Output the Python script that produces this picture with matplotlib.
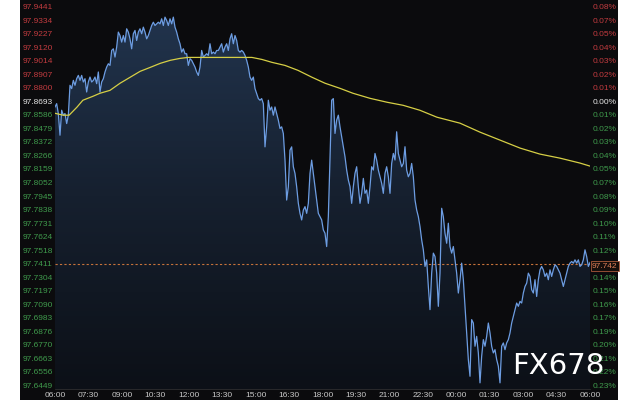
import numpy as np
import matplotlib
matplotlib.use("Agg")
import matplotlib.pyplot as plt
from matplotlib.patches import Rectangle, Polygon
from matplotlib.colors import LinearSegmentedColormap

# price series, evenly spaced from 06:00 to 06:00 next day
price = [
    97.8648, 97.8674, 97.8596, 97.8425, 97.8622, 97.8583, 97.8596, 97.8517, 97.8583, 97.8819,
    97.8793, 97.8858, 97.8819, 97.8871, 97.8897, 97.8858, 97.8897, 97.8845, 97.8871, 97.8766,
    97.8845, 97.8884, 97.8845, 97.8858, 97.8884, 97.8832, 97.8924, 97.8766, 97.8845, 97.8871,
    97.8924, 97.8963, 97.8989, 97.8976, 97.9094, 97.9107, 97.9042, 97.9121, 97.9239, 97.9212,
    97.9160, 97.9212, 97.9160, 97.9265, 97.9239, 97.9186, 97.9107, 97.9226, 97.9252, 97.9173,
    97.9239, 97.9265, 97.9226, 97.9278, 97.9239, 97.9186, 97.9212, 97.9252, 97.9291, 97.9317,
    97.9291, 97.9304, 97.9317, 97.9304, 97.9344, 97.9291, 97.9357, 97.9331, 97.9291, 97.9344,
    97.9304, 97.9357, 97.9278, 97.9239, 97.9186, 97.9147, 97.9081, 97.9107, 97.9068, 97.9068,
    97.8976,
    97.9029, 97.9016, 97.8989, 97.8963, 97.8924, 97.8897, 97.8963, 97.9094, 97.9042, 97.9055,
    97.9068, 97.9055, 97.9147, 97.9068, 97.9081, 97.9068, 97.9094, 97.9094, 97.9121, 97.9147,
    97.9081, 97.9121, 97.9147, 97.9094, 97.9186, 97.9226, 97.9147, 97.9212, 97.9173, 97.9094,
    97.9081, 97.9094, 97.9081, 97.9055, 97.9016, 97.8963, 97.8884, 97.8858, 97.8884, 97.8793,
    97.8753, 97.8714, 97.8701, 97.8714, 97.8674, 97.8333, 97.8491, 97.8701, 97.8622, 97.8648,
    97.8583, 97.8648, 97.8596, 97.8543, 97.8478, 97.8491, 97.8438, 97.8228, 97.7913, 97.8018,
    97.8307, 97.8333, 97.8176, 97.8123, 97.8018, 97.7887, 97.7808, 97.7756, 97.7834, 97.7861,
    97.7808, 97.7887, 97.8123, 97.8228, 97.8123, 97.8018, 97.7913, 97.7808, 97.7782, 97.7756,
    97.7677, 97.7651,
    97.7546, 97.7782, 97.8229, 97.8701, 97.8714, 97.8439, 97.8544, 97.8583, 97.8491, 97.8412,
    97.8334, 97.8255, 97.8150, 97.8071, 97.8019, 97.7887, 97.8019, 97.8124, 97.8176, 97.8019,
    97.7887, 97.7966, 97.8084, 97.7966, 97.7992, 97.7887, 97.8019, 97.8176, 97.8150, 97.8281,
    97.8229, 97.8150, 97.8097, 97.8045, 97.7966, 97.8124, 97.8176, 97.8097, 97.7966, 97.8202,
    97.8281, 97.8229, 97.8452, 97.8281, 97.8229, 97.8176, 97.8202, 97.8334, 97.8150, 97.8097,
    97.8124, 97.8202, 97.8097, 97.7914, 97.7835, 97.7782, 97.7704, 97.7599, 97.7520, 97.7389,
    97.7441, 97.7231, 97.7048, 97.7336, 97.7494, 97.7467, 97.7336, 97.7074, 97.7336, 97.7848,
    97.7782, 97.7651, 97.7572, 97.7730, 97.7546, 97.7494, 97.7546, 97.7441, 97.7336, 97.7179,
    97.7284, 97.7415, 97.7284, 97.7074, 97.6864, 97.6654, 97.6522, 97.6969, 97.6942, 97.6759,
    97.6837, 97.6706, 97.6470, 97.6680, 97.6811, 97.6759, 97.6837, 97.6942, 97.6864, 97.6759,
    97.6706, 97.6732, 97.6654, 97.6601, 97.6470, 97.6759, 97.6785, 97.6732, 97.6785, 97.6811,
    97.6864, 97.6942, 97.6995, 97.7047, 97.7100, 97.7074, 97.7113, 97.7100, 97.7179, 97.7231,
    97.7257, 97.7336, 97.7310, 97.7205, 97.7179, 97.7284, 97.7152, 97.7284, 97.7362, 97.7389,
    97.7362, 97.7310, 97.7336, 97.7284, 97.7362, 97.7310, 97.7362, 97.7402, 97.7389, 97.7362,
    97.7336, 97.7284, 97.7231, 97.7284, 97.7336, 97.7389, 97.7415, 97.7428, 97.7415, 97.7441,
    97.7415, 97.7441, 97.7389, 97.7402, 97.7441, 97.7520, 97.7467, 97.7389, 97.7420,
]

# yellow average line: minutes after 06:00 and value
avg_min = [0, 22, 38, 59, 75, 102, 121, 148, 175, 202, 229, 256, 283, 310, 336, 358,
           404, 458, 506, 530, 557, 584, 619, 654, 692, 727, 767, 802, 848, 894, 937,
           982, 1028, 1090, 1144, 1198, 1252, 1305, 1359, 1413, 1440]
avg_val = [97.8598, 97.8583, 97.8583, 97.8646, 97.8701, 97.8732, 97.8756, 97.8779, 97.8835,
           97.8882, 97.8929, 97.8960, 97.8992, 97.9016, 97.9031, 97.9039, 97.9039, 97.9039,
           97.9039, 97.9039, 97.9023, 97.9000, 97.8976, 97.8937, 97.8882, 97.8835, 97.8795,
           97.8756, 97.8716, 97.8685, 97.8661, 97.8622, 97.8567, 97.8520, 97.8449, 97.8386,
           97.8323, 97.8276, 97.8244, 97.8205, 97.8181]

last_price = 97.7411
tag_text = "97.742"

left_labels = ["97.9441", "97.9334", "97.9227", "97.9120", "97.9014", "97.8907", "97.8800",
               "97.8693", "97.8586", "97.8479", "97.8372", "97.8266", "97.8159", "97.8052",
               "97.7945", "97.7838", "97.7731", "97.7624", "97.7518", "97.7411", "97.7304",
               "97.7197", "97.7090", "97.6983", "97.6876", "97.6770", "97.6663", "97.6556",
               "97.6449"]
right_labels = ["0.08%", "0.07%", "0.05%", "0.04%", "0.03%", "0.02%", "0.01%", "0.00%",
                "0.01%", "0.02%", "0.03%", "0.04%", "0.05%", "0.07%", "0.08%", "0.09%",
                "0.10%", "0.11%", "0.12%", "0.13%", "0.14%", "0.15%", "0.16%", "0.17%",
                "0.19%", "0.20%", "0.21%", "0.22%", "0.23%"]
time_labels = ["06:00", "07:30", "09:00", "10:30", "12:00", "13:30", "15:00", "16:30",
               "18:00", "19:30", "21:00", "22:30", "00:00", "01:30", "03:00", "04:30", "06:00"]

RED = "#c23b3f"
GREEN = "#3f9a4c"
WHITE = "#e6e6e6"
BG = "#0b0b0d"

plt.rcParams["font.family"] = ["Liberation Sans", "DejaVu Sans"]

fig = plt.figure(figsize=(6.4, 4.0), dpi=100)
fig.patch.set_facecolor("white")
fig.add_artist(Rectangle((20 / 640, 0), 598 / 640, 1, transform=fig.transFigure,
                         facecolor=BG, edgecolor="none", zorder=-10))

ax = fig.add_axes([55 / 640, 11 / 400, 535 / 640, 387 / 400])
ax.set_facecolor(BG)

ytop, ybot = 97.94765, 97.64214
minutes = np.linspace(0, 1440, len(price))

# gradient fill under the price line
verts = [(0, ybot)] + list(zip(minutes, price)) + [(1440, ybot)]
clip = Polygon(verts, closed=True, facecolor="none", edgecolor="none")
ax.add_patch(clip)
cmap = LinearSegmentedColormap.from_list("fill", ["#0c1017", "#16202f", "#22354f"])
grad = np.linspace(0, 1, 256).reshape(-1, 1)
im = ax.imshow(grad, extent=[0, 1440, ybot, ytop], origin="lower", aspect="auto",
               cmap=cmap, zorder=1)
im.set_clip_path(clip)

ax.plot(minutes, price, color="#6d9de2", lw=0.9, zorder=3)
ax.plot(avg_min, avg_val, color="#d6cf45", lw=0.9, zorder=4)
ax.axhline(last_price, color="#c8733a", lw=0.8, ls=(0, (2, 2)), zorder=2)

ax.set_xlim(0, 1440)
ax.set_ylim(ybot, ytop)

yt = np.linspace(97.6449, 97.9441, 29)[::-1]
ax.set_yticks(yt)
ax.set_yticklabels(left_labels, fontsize=6)
ax.tick_params(axis="y", length=0, pad=23.4)
for i, lab in enumerate(ax.get_yticklabels()):
    lab.set_ha("left")
    lab.set_color(RED if i < 7 else (WHITE if i == 7 else GREEN))

ax.set_xticks(np.arange(0, 1441, 90))
ax.set_xticklabels(time_labels, fontsize=6, color="#c8c8c8")
ax.tick_params(axis="x", length=0, pad=2)

for s in ["top", "left", "right"]:
    ax.spines[s].set_visible(False)
ax.spines["bottom"].set_color("#2e2e30")
ax.spines["bottom"].set_linewidth(0.6)

ax2 = ax.twinx()
ax2.set_ylim(ybot, ytop)
ax2.set_yticks(yt)
ax2.set_yticklabels(right_labels, fontsize=6)
ax2.tick_params(axis="y", length=0, pad=2)
for i, lab in enumerate(ax2.get_yticklabels()):
    lab.set_color(RED if i < 7 else (WHITE if i == 7 else GREEN))
for s in ax2.spines.values():
    s.set_visible(False)

# current price tag on the right edge
fig.text(592 / 640, ax.transData.transform((0, 97.742))[1] / 400 - 0.009, tag_text,
         fontsize=6, color="#e0805a", va="center", ha="left", zorder=10,
         bbox=dict(boxstyle="square,pad=0.15", facecolor="#150e0b", edgecolor="#a8583a", lw=0.6))

fig.text(512 / 640, 26 / 400, "FX678", fontsize=21, color="white", ha="left",
         va="baseline", family="DejaVu Sans", zorder=10)

fig.savefig("out.png", dpi=100)
